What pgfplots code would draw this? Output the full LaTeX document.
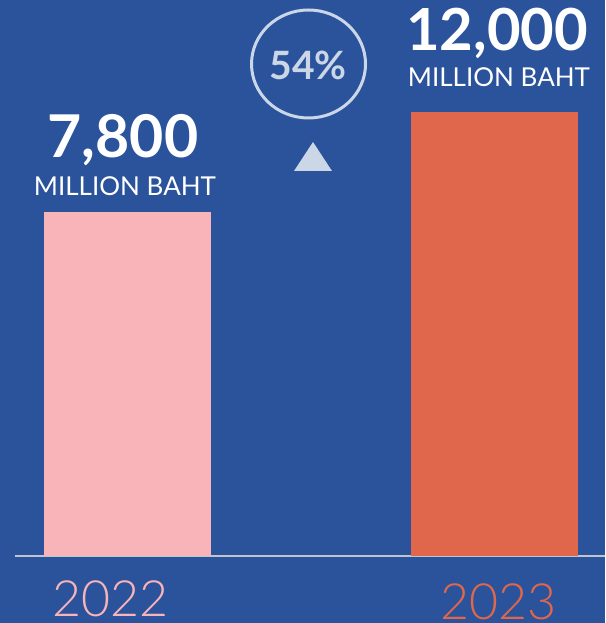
\documentclass[border=0pt]{standalone}
\usepackage{pgfplots}
\pgfplotsset{compat=1.18}
\usepackage{fontspec}
\setmainfont{Lato}
\newfontfamily\lightfont{Lato Light}
\definecolor{bgblue}{HTML}{2A539B}
\definecolor{barpink}{HTML}{F8B4B8}
\definecolor{barorange}{HTML}{E0674C}
\definecolor{paleblue}{HTML}{CBD6E6}
\definecolor{basegray}{HTML}{BFC4CD}

\begin{document}
\begin{tikzpicture}[x=1pt,y=1pt]
\useasboundingbox (0,0) rectangle (605,623);
\fill[bgblue] (0,0) rectangle (605,623);
\begin{axis}[
  at={(15pt,67pt)}, anchor=south west,
  scale only axis,
  width=590pt, height=556pt,
  xmin=-0.3065, xmax=1.301,
  ymin=-6648, ymax=16704,
  axis x line*=bottom,
  axis y line=none,
  x axis line style={draw=basegray, line width=2pt},
  xtick=\empty, ytick=\empty,
  clip=false,
]
% 2022
\addplot[fill=barpink, draw=none]
  coordinates {(-0.2275,-6648) (-0.2275,7800) (0.2275,7800) (0.2275,-6648)} -- cycle;
% 2023
\addplot[fill=barorange, draw=none]
  coordinates {(0.7725,-6648) (0.7725,12000) (1.2275,12000) (1.2275,-6648)} -- cycle;

\node[anchor=base, text=white, font=\bfseries\fontsize{59}{59}\selectfont] at (axis cs:-0.012,10068) {7,800};
\node[anchor=base, text=white, font=\fontsize{26}{26}\selectfont] at (axis cs:-0.007,8472) {MILLION BAHT};
\node[anchor=base, text=white, font=\bfseries\fontsize{58}{58}\selectfont] at (axis cs:1.007,14600) {12,000};
\node[anchor=base, text=white, font=\fontsize{26}{26}\selectfont] at (axis cs:1.012,13050) {MILLION BAHT};

\coordinate (ring) at (axis cs:0.4932,14016);
\coordinate (tri) at (axis cs:0.5054,9522);
\node[anchor=base, text=paleblue, font=\bfseries\fontsize{39}{39}\selectfont] at (axis cs:0.4918,13344) {54\%};

\node[anchor=base, inner sep=0pt, text=barpink, font=\lightfont\fontsize{50}{50}\selectfont] at (axis cs:-0.045,-9168) {2022};
\node[anchor=base, inner sep=0pt, text=barorange, font=\lightfont\fontsize{50}{50}\selectfont] at (axis cs:1.0095,-9300) {2023};
\end{axis}
\draw[paleblue, line width=3pt] (ring) ellipse [x radius=57, y radius=54];
\fill[paleblue] (tri) ++(-19,0) -- ++(38,0) -- ++(-19,29) -- cycle;
\end{tikzpicture}
\end{document}
